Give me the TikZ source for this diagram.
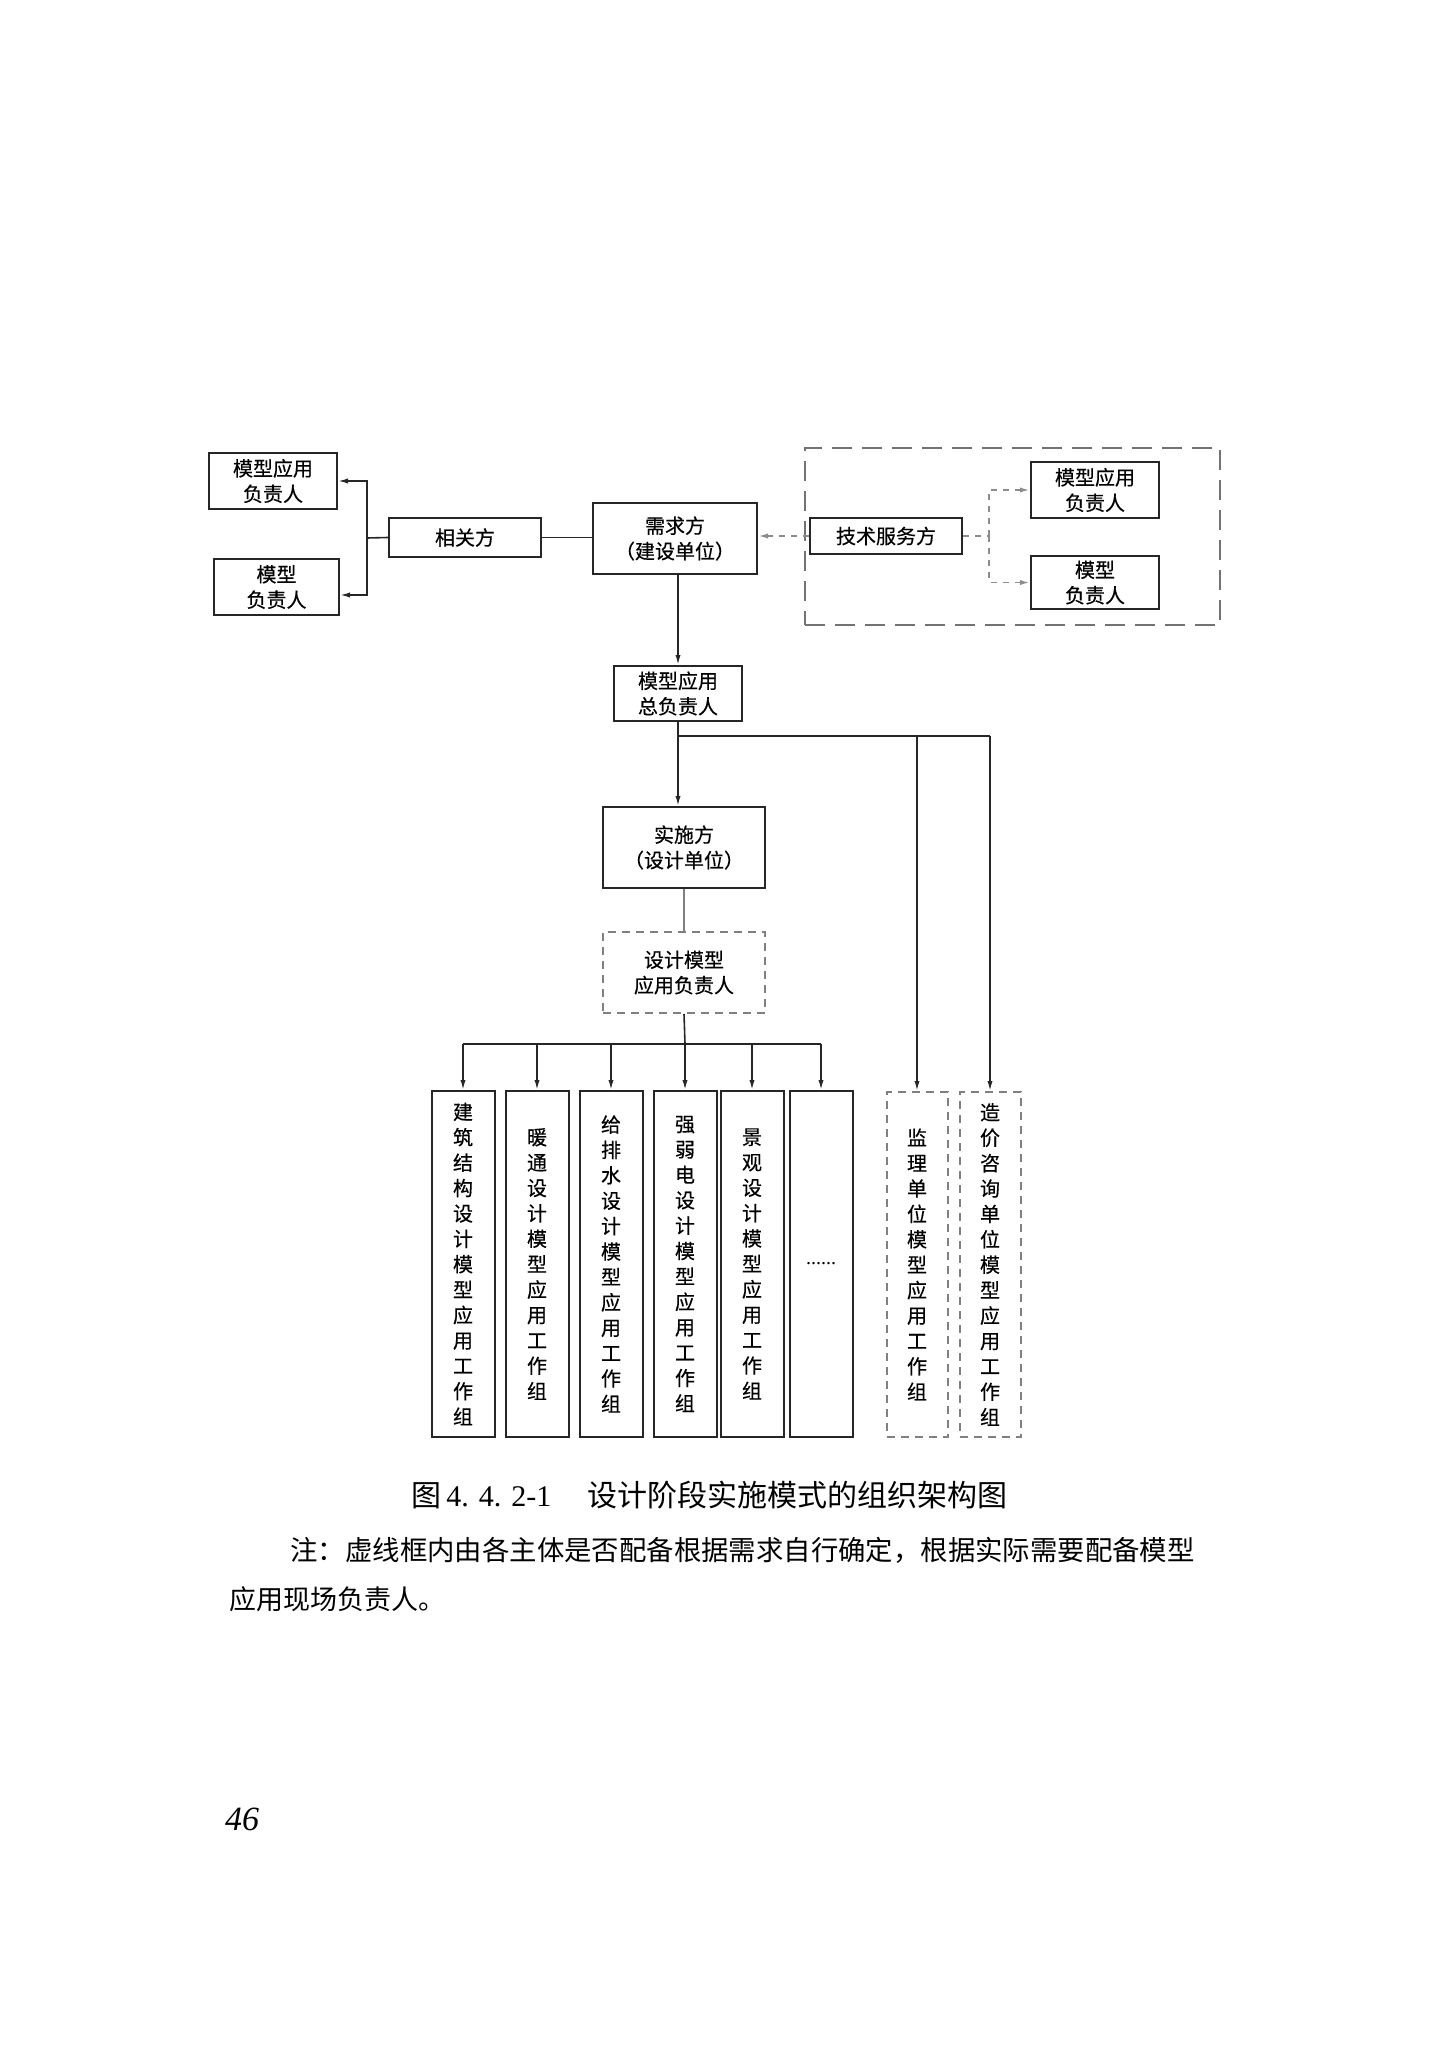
\documentclass[tikz,border=0pt]{standalone}
\usepackage{fontspec}
\setmainfont{Liberation Serif}
\newfontfamily\cjk{Noto Sans CJK SC}
\newfontfamily\cjkb[FakeBold=0.4]{Noto Sans CJK SC}
\usetikzlibrary{arrows.meta}
\begin{document}
\begin{tikzpicture}[x=0.5pt,y=-0.5pt,
  box/.style={draw=black!85, line width=1pt, inner sep=0pt, align=center,
    font=\cjkb\fontsize{10}{12.7}\selectfont},
  dbox/.style={box, draw=black!50, dash pattern=on 4pt off 3pt},
  col/.style={box, minimum width=31.5pt, minimum height=173pt},
  dcol/.style={dbox, minimum width=30.5pt, minimum height=172.5pt},
  conn/.style={draw=black!85, line width=0.8pt},
  arr/.style={conn, -{Latex[length=5pt,width=2.6pt]}},
  dline/.style={draw=black!45, line width=0.9pt, dash pattern=on 3pt off 3pt},
  darr/.style={dline, -{Latex[length=5pt,width=2.6pt]}},
  txt/.style={inner sep=0pt}
]
\useasboundingbox (0,0) rectangle (1430,2048);
\fill[white] (0,0) rectangle (1430,2048);

% top-left group
\node[box, minimum width=64pt, minimum height=28pt] (a1) at (273,481) {模型应用\\负责人};
\node[box, minimum width=62.5pt, minimum height=28pt] (a2) at (276.5,587) {模型\\负责人};
\node[box, minimum width=76pt, minimum height=19.5pt] (xg) at (465,537.5) {相关方};
\node[box, minimum width=82pt, minimum height=35.5pt] (xq) at (675,538.5) {需求方\\（建设单位）};

% right dashed group
\node[draw=black!55, dash pattern=on 10pt off 5pt, line width=1pt, inner sep=0pt,
  minimum width=207.5pt, minimum height=88.5pt] (grp) at (1012.5,536.5) {};
\node[box, minimum width=76pt, minimum height=18pt] (js) at (886,536) {技术服务方};
\node[box, minimum width=64pt, minimum height=28pt] (b1) at (1095,490) {模型应用\\负责人};
\node[box, minimum width=64pt, minimum height=26.5pt] (b2) at (1095,582.5) {模型\\负责人};

% middle chain
\node[box, minimum width=64pt, minimum height=27.5pt] (zf) at (678,693.5) {模型应用\\总负责人};
\node[box, minimum width=81pt, minimum height=40.5pt] (ss) at (684,847.5) {实施方\\（设计单位）};
\node[dbox, minimum width=81pt, minimum height=40.5pt] (sj) at (684,972.5) {设计模型\\应用负责人};

% columns
\node[col] (c1) at (463,1264) {建\\筑\\结\\构\\设\\计\\模\\型\\应\\用\\工\\作\\组};
\node[col] (c2) at (537,1264) {暖\\通\\设\\计\\模\\型\\应\\用\\工\\作\\组};
\node[col] (c3) at (611,1264) {给\\排\\水\\设\\计\\模\\型\\应\\用\\工\\作\\组};
\node[col] (c4) at (685,1264) {强\\弱\\电\\设\\计\\模\\型\\应\\用\\工\\作\\组};
\node[col] (c5) at (752,1264) {景\\观\\设\\计\\模\\型\\应\\用\\工\\作\\组};
\node[col] (c6) at (821,1264) {\rmfamily ......};
\node[dcol] (c7) at (917,1264.5) {监\\理\\单\\位\\模\\型\\应\\用\\工\\作\\组};
\node[dcol] (c8) at (990,1264.5) {造\\价\\咨\\询\\单\\位\\模\\型\\应\\用\\工\\作\\组};

% connectors: left
\coordinate (jl) at (367,538);
\draw[conn] (xg.east) -- (xg.east -| xq.west);
\draw[conn] (xg.west) -- (jl);
\draw[arr] (jl) |- (a1.east);
\draw[arr] (jl) |- ([yshift=-4pt]a2.east);

% connectors: right
\draw[darr] (js.west) -- (js.west -| xq.east);
\coordinate (jr) at (989,536);
\draw[dline] (js.east) -- (jr);
\draw[darr] (jr) |- (b1.west);
\draw[darr] (jr) |- (b2.west);

% connectors: middle
\draw[arr] (zf.north |- xq.south) -- (zf.north);
\draw[arr] (zf.south) -- (zf.south |- ss.north);
\coordinate (bus1) at (990,736);
\draw[conn] (zf.south |- bus1) -- (bus1);
\draw[arr] (c7.north |- bus1) -- (c7.north);
\draw[arr] (bus1) -- (c8.north);

\draw[draw=black!50, line width=0.9pt] (ss.south) -- (sj.north);
\coordinate (bus2) at (685,1044);
\draw[conn] (sj.south) -- (bus2);
\draw[conn] (c1.north |- bus2) -- (c6.north |- bus2);
\foreach \c in {c1,c2,c3,c4,c5,c6}
  \draw[arr] (\c.north |- bus2) -- (\c.north);

% caption and note
\node[txt, anchor=west, font=\fontsize{15}{18}\selectfont] (cap) at (411,1495)
  {{\cjk 图}\,4. 4. 2-1\hspace{18pt}{\cjk 设计阶段实施模式的组织架构图}};
\node[txt, anchor=west, font=\cjk\fontsize{13.7}{16}\selectfont] (n1) at (290,1550)
  {注：虚线框内由各主体是否配备根据需求自行确定，根据实际需要配备模型};
\node[txt, anchor=west, font=\cjk\fontsize{13.5}{16}\selectfont] (n2) at (229,1599)
  {应用现场负责人。};
\node[txt, font=\itshape\fontsize{17}{20}\selectfont] (pg) at (242,1819) {46};
\end{tikzpicture}
\end{document}
